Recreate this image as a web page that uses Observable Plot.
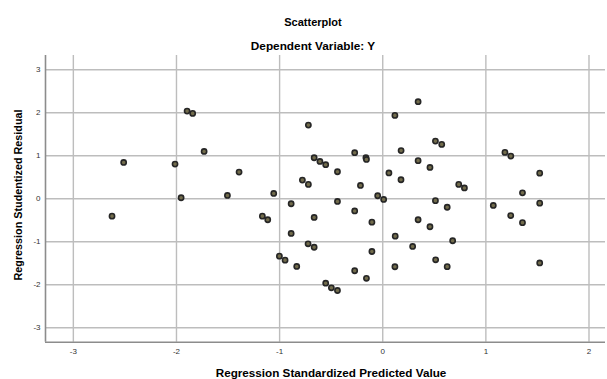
<!DOCTYPE html>
<html>
<head>
<meta charset="utf-8">
<script src="https://cdn.jsdelivr.net/npm/d3@7"></script>
<script src="https://cdn.jsdelivr.net/npm/@observablehq/plot@0.6"></script>
<style>
  html, body { margin: 0; padding: 0; background: #fff; }
  #wrap { position: relative; width: 607px; height: 379px; overflow: hidden; font-family: "Liberation Sans", Arial, sans-serif; }
  #chart { position: absolute; left: 0; top: 0; }
  .lbl { position: absolute; white-space: nowrap; font-weight: bold; color: #000; line-height: 14px; height: 14px; }
</style>
</head>
<body>
<div id="wrap">
  <div id="chart"></div>
  <div class="lbl" id="t1" style="left:313px; top:15px; transform:translateX(-50%); font-size:11px;"></div>
  <div class="lbl" id="t2" style="left:313px; top:39px; transform:translateX(-50%); font-size:11.8px;"></div>
  <div class="lbl" id="xl" style="left:331px; top:366px; transform:translateX(-50%); font-size:11.7px;"></div>
  <div class="lbl" id="yl" style="left:18px; top:195px; transform:translate(-50%,-50%) rotate(-90deg); font-size:10.8px;"></div>
</div>
<script>
const title = "Scatterplot";
const subtitle = "Dependent Variable: Y";
const xLabel = "Regression Standardized Predicted Value";
const yLabel = "Regression Studentized Residual";

const xTicks = [-3, -2, -1, 0, 1, 2];
const yTicks = [-3, -2, -1, 0, 1, 2, 3];
const xDomain = [-3.27, 2.16];
const yDomain = [-3.335, 3.33];

// Regression standardized predicted value
const predicted = [-2.625,-2.512,-2.014,-1.955,-1.897,-1.843,-1.732,-1.506,-1.393,-1.167,-1.115,-1.057,-1.002,-0.947,-0.888,-0.888,-0.834,-0.779,-0.724,-0.721,-0.721,-0.665,-0.665,-0.665,-0.609,-0.553,-0.553,-0.498,-0.439,-0.439,-0.439,-0.272,-0.272,-0.272,-0.216,-0.163,-0.158,-0.158,-0.105,-0.105,-0.049,0.009,0.060,0.118,0.121,0.118,0.178,0.177,0.290,0.343,0.343,0.343,0.458,0.458,0.511,0.572,0.511,0.513,0.625,0.625,0.678,0.737,0.792,1.072,1.185,1.242,1.241,1.355,1.355,1.522,1.522,1.522];
// Regression studentized residual
const residual = [-0.405,0.844,0.805,0.023,2.037,1.984,1.100,0.077,0.619,-0.405,-0.488,0.123,-1.335,-1.428,-0.116,-0.807,-1.574,0.433,-1.047,0.333,1.712,0.953,-0.435,-1.128,0.867,0.791,-1.963,-2.070,0.628,-0.063,-2.133,1.070,-0.284,-1.674,0.309,0.953,0.914,-1.849,-0.544,-1.226,0.070,-0.016,0.600,1.937,-0.870,-1.581,1.119,0.442,-1.109,2.256,0.886,-0.488,0.728,-0.651,1.340,1.263,-0.044,-1.419,-0.198,-1.579,-0.977,0.333,0.251,-0.156,1.077,0.991,-0.391,0.137,-0.556,0.595,-0.102,-1.493];

const points = predicted.map((x, i) => ({x, y: residual[i]}));

document.getElementById("t1").textContent = title;
document.getElementById("t2").textContent = subtitle;
document.getElementById("xl").textContent = xLabel;
document.getElementById("yl").textContent = yLabel;

const chart = Plot.plot({
  width: 607,
  height: 379,
  marginLeft: 45,
  marginRight: 2,
  marginTop: 55,
  marginBottom: 37.3,
  style: { fontFamily: "Liberation Sans, Arial, sans-serif", background: "transparent", overflow: "visible" },
  x: { domain: xDomain },
  y: { domain: yDomain },
  marks: [
    Plot.ruleX(xTicks, { stroke: "#bdbdbd", strokeWidth: 1.4 }),
    Plot.ruleY(yTicks, { stroke: "#bdbdbd", strokeWidth: 1.4 }),
    Plot.ruleX([xDomain[0]], { stroke: "#8c8c8c", strokeWidth: 1.6 }),
    Plot.ruleY([yDomain[0]], { stroke: "#8c8c8c", strokeWidth: 1.6 }),
    Plot.axisX({ ticks: xTicks, tickSize: 0, tickPadding: 6, fontSize: 8, fill: "#333", label: null, tickFormat: d => String(d) }),
    Plot.axisY({ ticks: yTicks, tickSize: 0, tickPadding: 5, fontSize: 8, fill: "#333", label: null, tickFormat: d => String(d) }),
    Plot.dot(points, { x: "x", y: "y", r: 2.6, fill: "#726c4c", stroke: "#262626", strokeWidth: 1.6 })
  ]
});
document.getElementById("chart").appendChild(chart);
</script>
</body>
</html>
